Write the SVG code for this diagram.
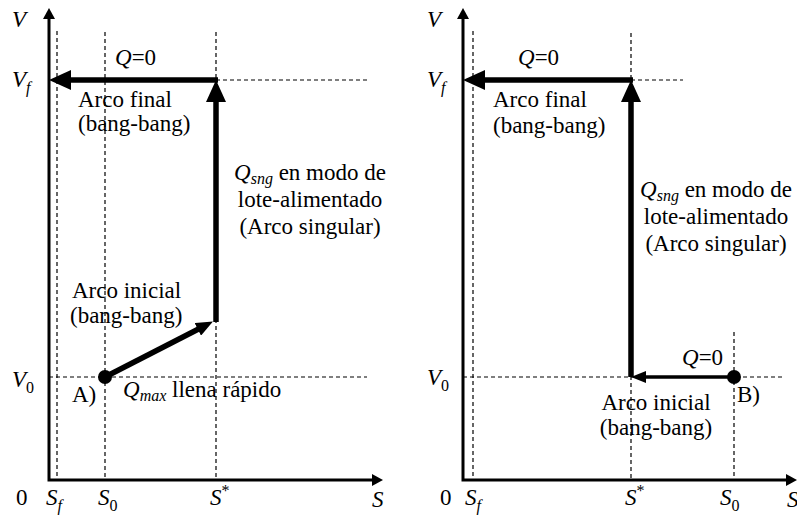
<svg xmlns="http://www.w3.org/2000/svg" width="797" height="520" viewBox="0 0 797 520">
<style>
text{font-family:"Liberation Serif","Times New Roman","DejaVu Serif",serif;font-size:23px;fill:#000}
.it{font-style:italic}
.sub{font-size:16px}
.dash{stroke:#000;stroke-width:1.2;stroke-dasharray:4 3;fill:none}
.axis{stroke:#000;stroke-width:3;fill:none}
.thick{stroke:#000;stroke-width:5.5;fill:none}
.thin{stroke:#000;stroke-width:3.5;fill:none}
</style>
<defs>
<marker id="big" markerUnits="userSpaceOnUse" markerWidth="22" markerHeight="20" viewBox="0 0 22 20" refX="4" refY="10" orient="auto"><path d="M0,0 L22,10 L0,20 z"/></marker>
<marker id="mid" markerUnits="userSpaceOnUse" markerWidth="17" markerHeight="14" viewBox="0 0 17 14" refX="3" refY="7" orient="auto"><path d="M0,0 L17,7 L0,14 z"/></marker>
<marker id="sm" markerUnits="userSpaceOnUse" markerWidth="15" markerHeight="12" viewBox="0 0 15 12" refX="3" refY="6" orient="auto"><path d="M0,0 L15,6 L0,12 z"/></marker>
<marker id="ax" markerUnits="userSpaceOnUse" markerWidth="11" markerHeight="12" viewBox="0 0 11 12" refX="2" refY="6" orient="auto-start-reverse"><path d="M0,0 L11,6 L0,12 z"/></marker>
</defs>

<g id="panelA" font-family="Liberation Serif, Times New Roman, serif">
<g id="A-guides">
<line class="dash" x1="57" y1="31" x2="57" y2="480"/>
<line class="dash" x1="105" y1="32" x2="105" y2="480"/>
<line class="dash" x1="216" y1="32" x2="216" y2="480"/>
<line class="dash" x1="216" y1="80" x2="370" y2="80"/>
<line class="dash" x1="49" y1="377" x2="367" y2="377"/>
</g>
<g id="A-axes">
<path class="axis" d="M49,17 L49,480 L374,480" marker-start="url(#ax)" marker-end="url(#ax)"/>
</g>
<g id="A-connectors">
<line class="thick" x1="218" y1="80" x2="67" y2="80" marker-end="url(#big)"/>
<line class="thick" x1="216" y1="322" x2="216" y2="98" marker-end="url(#big)"/>
<line class="thick" x1="105" y1="377" x2="200.5" y2="328" marker-end="url(#mid)"/>
</g>
<g id="A-start"><circle cx="105" cy="377" r="7"/></g>
<g id="A-labels">
<text class="it" x="12" y="27">V</text>
<text x="12" y="87"><tspan class="it">V</tspan><tspan class="it sub" dy="6">f</tspan></text>
<text x="12" y="387"><tspan class="it">V</tspan><tspan class="sub" dy="6">0</tspan></text>
<text x="16" y="505">0</text>
<text x="46" y="505"><tspan class="it">S</tspan><tspan class="it sub" dy="6">f</tspan></text>
<text x="98" y="505"><tspan class="it">S</tspan><tspan class="sub" dy="6">0</tspan></text>
<text x="210" y="505"><tspan class="it">S</tspan><tspan class="sub" dy="-9">*</tspan></text>
<text class="it" x="372" y="507">S</text>
<text x="115" y="65"><tspan class="it">Q</tspan>=0</text>
<text x="78" y="107">Arco final</text>
<text x="78" y="131">(bang-bang)</text>
<text x="310" y="180" text-anchor="middle"><tspan class="it">Q</tspan><tspan class="it sub" dy="4">sng</tspan><tspan dy="-4"> en modo de</tspan></text>
<text x="310" y="207" text-anchor="middle">lote-alimentado</text>
<text x="310" y="234" text-anchor="middle">(Arco singular)</text>
<text x="72" y="298">Arco inicial</text>
<text x="70" y="323">(bang-bang)</text>
<text x="72" y="402">A)</text>
<text x="123" y="397"><tspan class="it">Q</tspan><tspan class="it sub" dy="4">max</tspan><tspan dy="-4"> llena rápido</tspan></text>
</g>
</g>

<g id="panelB">
<g id="B-guides">
<line class="dash" x1="473" y1="31" x2="473" y2="480"/>
<line class="dash" x1="631" y1="33" x2="631" y2="480"/>
<line class="dash" x1="734" y1="332" x2="734" y2="480"/>
<line class="dash" x1="631" y1="80" x2="683" y2="80"/>
<line class="dash" x1="463" y1="377" x2="782" y2="377"/>
</g>
<g id="B-axes">
<path class="axis" d="M463,17 L463,480 L788,480" marker-start="url(#ax)" marker-end="url(#ax)"/>
</g>
<g id="B-connectors">
<line class="thick" x1="633" y1="80" x2="481" y2="80" marker-end="url(#big)"/>
<line class="thick" x1="631" y1="377" x2="631" y2="98" marker-end="url(#big)"/>
<line class="thin" x1="734" y1="377" x2="643" y2="377" marker-end="url(#sm)"/>
</g>
<g id="B-start"><circle cx="734" cy="377" r="7"/></g>
<g id="B-labels">
<text class="it" x="427" y="27">V</text>
<text x="427" y="87"><tspan class="it">V</tspan><tspan class="it sub" dy="6">f</tspan></text>
<text x="427" y="385"><tspan class="it">V</tspan><tspan class="sub" dy="6">0</tspan></text>
<text x="440" y="505">0</text>
<text x="465" y="505"><tspan class="it">S</tspan><tspan class="it sub" dy="6">f</tspan></text>
<text x="625" y="505"><tspan class="it">S</tspan><tspan class="sub" dy="-9">*</tspan></text>
<text x="720" y="505"><tspan class="it">S</tspan><tspan class="sub" dy="6">0</tspan></text>
<text class="it" x="787" y="507">S</text>
<text x="518" y="65"><tspan class="it">Q</tspan>=0</text>
<text x="493" y="107">Arco final</text>
<text x="493" y="133">(bang-bang)</text>
<text x="716" y="197" text-anchor="middle"><tspan class="it">Q</tspan><tspan class="it sub" dy="4">sng</tspan><tspan dy="-4"> en modo de</tspan></text>
<text x="716" y="224" text-anchor="middle">lote-alimentado</text>
<text x="716" y="251" text-anchor="middle">(Arco singular)</text>
<text x="682" y="365"><tspan class="it">Q</tspan>=0</text>
<text x="737" y="402">B)</text>
<text x="656" y="410" text-anchor="middle">Arco inicial</text>
<text x="656" y="435" text-anchor="middle">(bang-bang)</text>
</g>
</g>
</svg>
